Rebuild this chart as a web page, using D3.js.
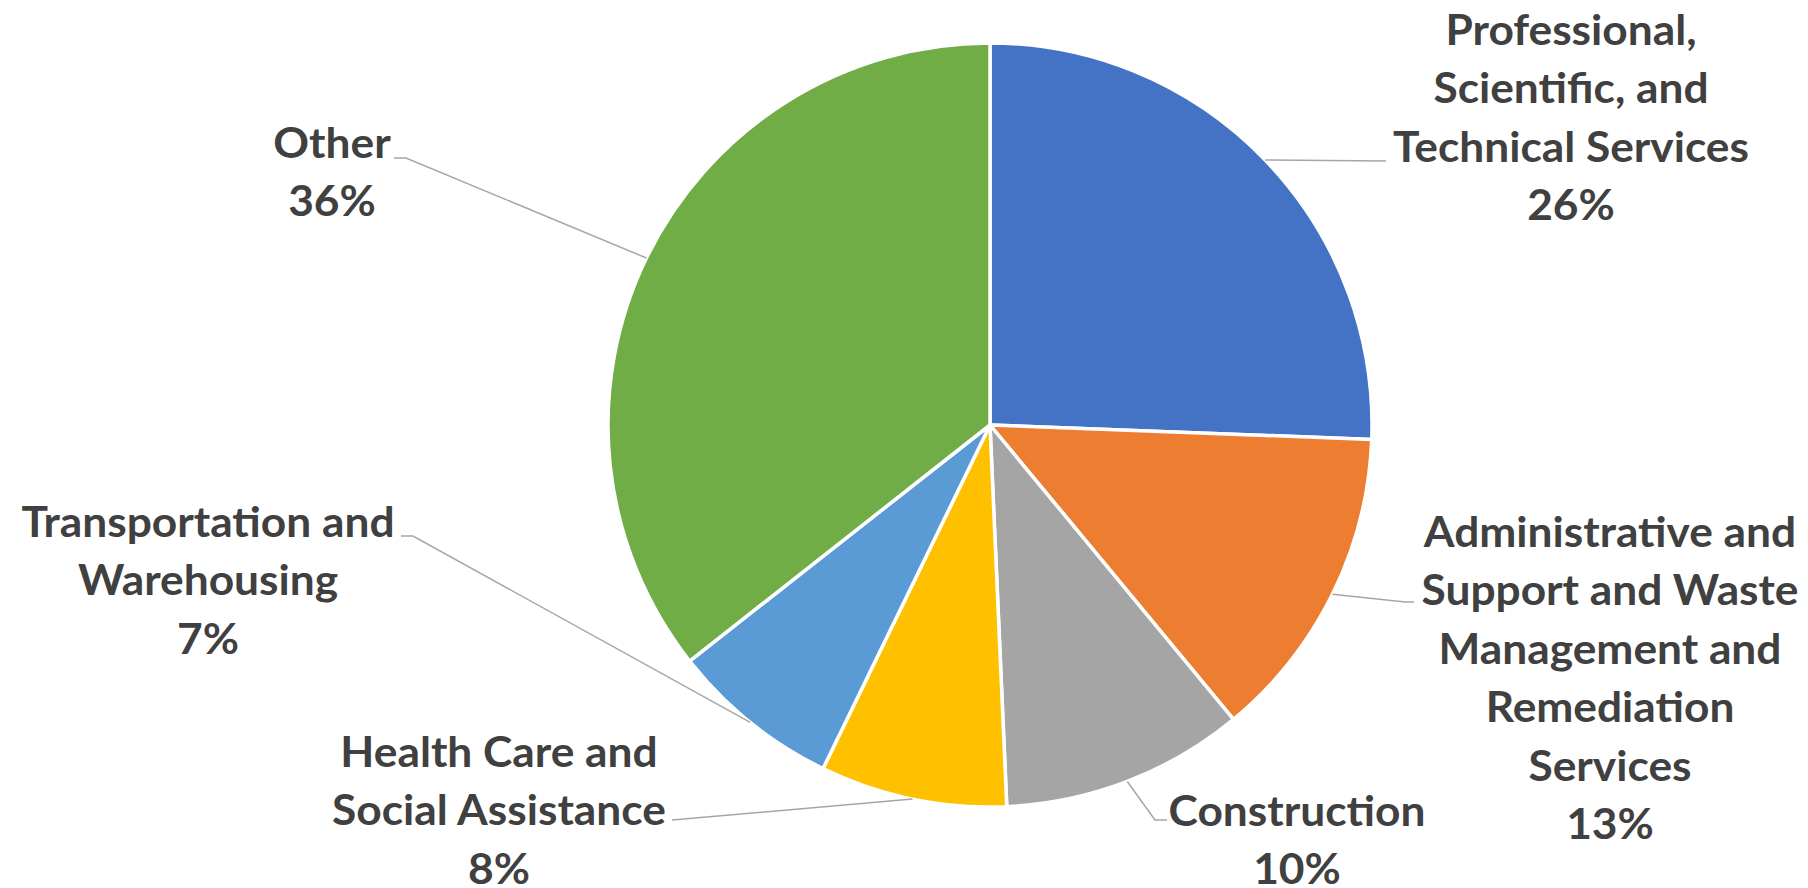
<!DOCTYPE html>
<html>
<head>
<meta charset="utf-8">
<script src="https://cdn.jsdelivr.net/npm/d3@7"></script>
<style>
  html, body { margin: 0; padding: 0; background: #fff; }
  svg { display: block; }
</style>
</head>
<body>
<script>
const width = 1808, height = 888;

// data (share of total, %)
const categories = [
    "Professional, Scientific, and Technical Services",
    "Administrative and Support and Waste Management and Remediation Services",
    "Construction",
    "Health Care and Social Assistance",
    "Transportation and Warehousing",
    "Other"
];
const shares = [25.6, 13.4, 10.3, 7.9, 7.2, 35.6];
const colors = ["#4472C4", "#ED7D31", "#A5A5A5", "#FFC000", "#5B9BD5", "#70AD47"];

// how each label is broken into lines
const labelLines = [
    ["Professional,", "Scientific, and", "Technical Services"],
    ["Administrative and", "Support and Waste", "Management and", "Remediation", "Services"],
    ["Construction"],
    ["Health Care and", "Social Assistance"],
    ["Transportation and", "Warehousing"],
    ["Other"]
];

// label placement (Excel best-fit layout): text centre x, first baseline, leader bend points
const labelLayout = [
    { x: 1571, y: 45,  leader: [[1386, 161]] },
    { x: 1610, y: 547, leader: [[1405, 602], [1414, 602]] },
    { x: 1297, y: 826, leader: [[1155, 820], [1167, 820]] },
    { x: 499,  y: 767, leader: [[672, 820]] },
    { x: 208,  y: 537, leader: [[413, 536], [401, 536]] },
    { x: 332,  y: 158, leader: [[406, 158], [394, 158]] }
];

const cx = 990, cy = 425, radius = 382;
const lineGap = 58.5;
const fontSize = 42;
// Calibri is narrower than the fonts we have; squeeze text so this line is this wide
const refText = "Technical Services", refWidth = 356;

const svg = d3.select("body")
    .append("svg")
    .attr("width", width)
    .attr("height", height);

const data = categories.map((c, i) => ({ name: c, value: shares[i], color: colors[i], lines: labelLines[i], pos: labelLayout[i] }));

const pie = d3.pie()
    .sort(null)
    .value(d => d.value);

const arc = d3.arc()
    .innerRadius(0)
    .outerRadius(radius);

const arcs = pie(data);

const g = svg.append("g")
    .attr("transform", `translate(${cx},${cy})`);

g.selectAll("path.slice")
    .data(arcs)
    .enter()
    .append("path")
    .attr("class", "slice")
    .attr("d", arc)
    .attr("fill", d => d.data.color)
    .attr("stroke", "#fff")
    .attr("stroke-width", 3.5)
    .attr("stroke-linejoin", "round");

// leader lines: from the slice edge at mid angle to the label
const line = d3.line();
svg.selectAll("path.leader")
    .data(arcs)
    .enter()
    .append("path")
    .attr("class", "leader")
    .attr("d", d => {
        const a = (d.startAngle + d.endAngle) / 2;
        const start = [cx + radius * Math.sin(a), cy - radius * Math.cos(a)];
        return line([start, ...d.data.pos.leader]);
    })
    .attr("fill", "none")
    .attr("stroke", "#A6A6A6")
    .attr("stroke-width", 1.5);

const fontFamily = "Lato, 'Open Sans', sans-serif";

// measure the reference line to get the horizontal squeeze
const probe = svg.append("text")
    .attr("font-family", fontFamily)
    .attr("font-weight", "bold")
    .attr("font-size", fontSize)
    .text(refText);
const sx = refWidth / probe.node().getComputedTextLength();
probe.remove();

const fmt = d3.format(".0f");
const labels = svg.selectAll("g.label")
    .data(arcs)
    .enter()
    .append("g")
    .attr("class", "label")
    .attr("transform", d => `translate(${d.data.pos.x},${d.data.pos.y}) scale(${sx},1)`)
    .append("text")
    .attr("text-anchor", "middle")
    .attr("font-family", fontFamily)
    .attr("font-weight", "bold")
    .attr("font-size", fontSize)
    .attr("fill", "#404040");

labels.each(function(d) {
    const t = d3.select(this);
    const rows = [...d.data.lines, fmt(d.data.value) + "%"];
    rows.forEach((r, i) => {
        t.append("tspan")
            .attr("x", 0)
            .attr("y", i * lineGap)
            .text(r);
    });
});
</script>
</body>
</html>
